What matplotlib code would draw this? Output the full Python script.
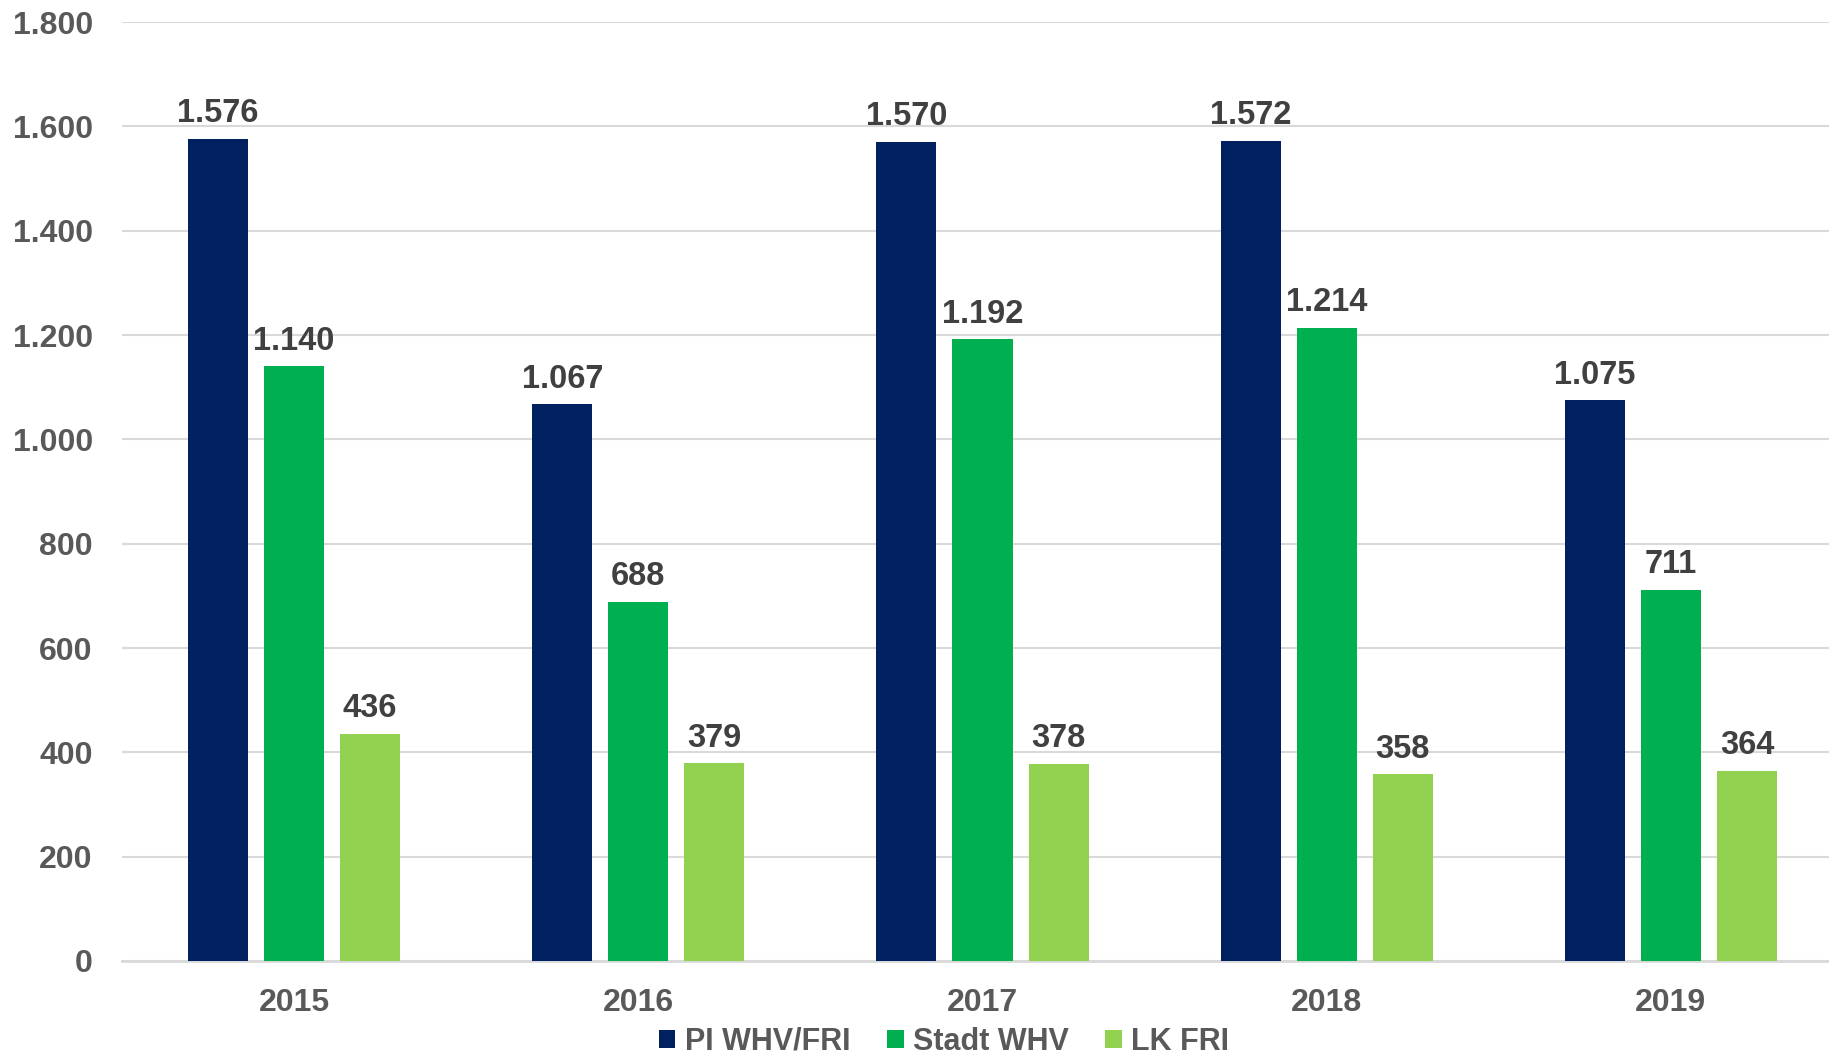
import matplotlib
matplotlib.use("Agg")
import matplotlib.pyplot as plt
import numpy as np

years = ["2015", "2016", "2017", "2018", "2019"]
series_names = ["PI WHV/FRI", "Stadt WHV", "LK FRI"]
pi_whv_fri = [1576, 1067, 1570, 1572, 1075]
stadt_whv = [1140, 688, 1192, 1214, 711]
lk_fri = [436, 379, 378, 358, 364]
yticks = [0, 200, 400, 600, 800, 1000, 1200, 1400, 1600, 1800]

colors = ["#002060", "#00B050", "#92D050"]

plt.rcParams['font.family'] = ['Liberation Sans', 'DejaVu Sans']
W, H = 1829, 1059
fig = plt.figure(figsize=(W / 100, H / 100), dpi=100)
left, right, top, bottom = 122, 1843, 22, 961
ax = fig.add_axes([left / W, 1 - bottom / H, (right - left) / W, (bottom - top) / H])

x = np.arange(len(years))
width = 60 / 344
step = 76 / 344
data = [pi_whv_fri, stadt_whv, lk_fri]

def fmt(v):
    return f"{v:,}".replace(",", ".")

for i, (vals, c, name) in enumerate(zip(data, colors, series_names)):
    pos = x + (i - 1) * step
    ax.bar(pos, vals, width=width, color=c, label=name, zorder=3)
    for px, v in zip(pos, vals):
        ax.annotate(fmt(v), (px, v), xytext=(0, 12), textcoords="offset points",
                    ha="center", va="baseline", fontsize=23.5, fontweight="bold",
                    color="#404040", zorder=4)

ax.set_xlim(-0.5, len(years) - 0.5)
ax.set_ylim(0, 1800)
ax.set_yticks(yticks)
ax.set_yticklabels([fmt(t) for t in yticks])
ax.set_xticks(x)
ax.set_xticklabels(years)
ax.yaxis.grid(True, color="#D9D9D9", linewidth=1.5, zorder=0)
ax.set_axisbelow(True)
for s in ["top", "right", "left"]:
    ax.spines[s].set_visible(False)
ax.spines["bottom"].set_color("#D9D9D9")
ax.spines["bottom"].set_linewidth(2)
ax.tick_params(axis="both", length=0, labelsize=23, labelcolor="#595959")
ax.tick_params(axis="y", pad=21)
ax.tick_params(axis="x", pad=19.5)
for lab in ax.get_xticklabels() + ax.get_yticklabels():
    lab.set_fontweight("bold")

leg = fig.legend(loc="center", bbox_to_anchor=(944 / W, 1 - 1042 / H), ncol=3,
                 frameon=False, handlelength=0.55, handleheight=0.55, handletextpad=0.3,
                 columnspacing=1.2, prop={"size": 22, "weight": "bold"})
for t in leg.get_texts():
    t.set_color("#595959")

fig.savefig("out.png", dpi=100)
